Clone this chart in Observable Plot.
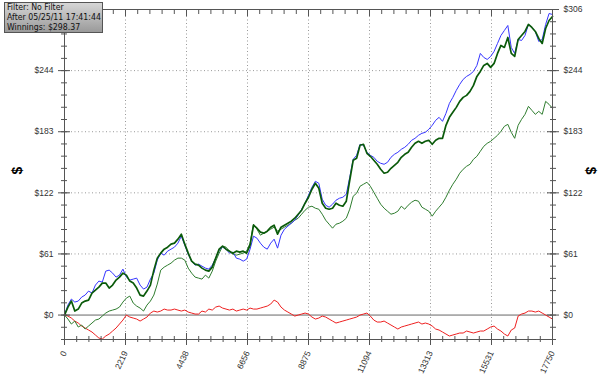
<!DOCTYPE html>
<html><head><meta charset="utf-8">
<script src="https://cdn.jsdelivr.net/npm/d3@7"></script>
<script src="https://cdn.jsdelivr.net/npm/@observablehq/plot@0.6"></script>
<style>
body{margin:0;background:#fff;}
#wrap{position:relative;width:600px;height:384px;overflow:hidden;}
#info{position:absolute;left:4px;top:2px;width:99px;height:31px;box-sizing:border-box;border:1px solid #555;background:linear-gradient(#d6d6d6,#9a9a9a);font:8.7px "DejaVu Sans Condensed","DejaVu Sans",sans-serif;line-height:9.8px;padding:0 0 0 2px;color:#111;white-space:nowrap;overflow:hidden;}
</style></head><body>
<div id="wrap"><div id="info">Filter: No Filter<br>After 05/25/11 17:41:44<br>Winnings: $298.37</div></div>
<script>
const hands = [
  0,125,250,375,500,625,750,875,
  1000,1125,1250,1375,1500,1625,1750,1875,
  2000,2125,2250,2375,2500,2625,2750,2875,
  3000,3125,3250,3375,3500,3625,3750,3875,
  4000,4125,4250,4375,4500,4625,4750,4875,
  5000,5125,5250,5375,5500,5625,5750,5875,
  6000,6125,6250,6375,6500,6625,6750,6875,
  7000,7125,7250,7375,7500,7625,7750,7875,
  8000,8125,8250,8375,8500,8625,8750,8875,
  9000,9125,9250,9375,9500,9625,9750,9875,
  10000,10125,10250,10375,10500,10625,10750,10875,
  11000,11125,11250,11375,11500,11625,11750,11875,
  12000,12125,12250,12375,12500,12625,12750,12875,
  13000,13125,13250,13375,13500,13625,13750,13875,
  14000,14125,14250,14375,14500,14625,14750,14875,
  15000,15125,15250,15375,15500,15625,15750,15875,
  16000,16125,16250,16375,16500,16625,16750,16875,
  17000,17125,17250,17375,17500,17625,17750];
const blueSeries = [
  0,10,16,13,14,18,20,24,
  22,30,34,33,44,45,42,38,
  40,46,38,35,36,37,30,26,
  28,36,42,55,62,60,64,66,
  68,72,79,70,61,54,50,51,
  49,47,46,50,57,65,68,66,
  62,63,57,56,54,56,66,79,
  77,72,68,66,72,76,67,80,
  86,89,92,95,100,106,112,120,
  128,134,132,116,110,108,111,115,
  117,118,121,138,156,160,171,170,
  163,160,158,154,152,151,153,158,
  161,163,166,168,171,175,177,180,
  182,183,186,190,195,198,194,202,
  212,218,225,231,236,239,241,244,
  250,262,258,256,259,264,272,280,
  285,290,268,262,276,275,280,291,
  288,284,274,276,291,302,301];
const darkSeries = [
  0,8,14,4,6,12,14,15,
  22,25,28,32,32,27,30,35,
  38,42,40,34,32,27,20,19,
  24,30,45,57,62,66,68,71,
  72,76,81,71,62,54,51,50,
  47,45,44,48,57,66,69,66,
  64,62,64,63,64,62,70,90,
  87,83,82,84,88,90,81,88,
  90,92,94,97,101,105,112,118,
  126,132,127,112,107,106,107,112,
  110,109,114,135,155,157,170,171,
  162,159,155,151,146,142,143,147,
  150,153,158,161,163,168,172,174,
  172,174,175,171,175,177,177,190,
  198,203,208,214,218,220,224,230,
  239,244,250,252,248,252,262,270,
  268,278,262,259,276,280,284,291,
  288,284,277,272,287,295,299];
const lightSeries = [
  0,-4,-9,-6,-12,-10,-14,-11,
  -8,-5,-4,-1,2,4,5,6,
  8,13,17,19,12,9,7,4,
  10,14,20,31,45,48,50,52,
  55,57,57,55,47,42,38,37,
  36,40,37,44,54,62,69,68,
  64,61,60,61,62,64,72,91,
  86,80,82,84,86,88,84,86,
  88,90,92,95,97,101,105,108,
  109,107,106,101,95,91,87,91,
  92,94,97,106,119,122,129,131,
  133,129,123,117,111,107,104,101,
  102,104,109,106,110,113,115,114,
  108,106,104,99,104,108,112,118,
  125,131,136,142,146,149,151,156,
  159,164,169,172,174,177,180,184,
  189,191,183,177,190,196,201,209,
  205,201,204,201,214,211,207];
const redSeries = [
  0,-1,-3,-6,-8,-11,-13,-15,
  -17,-20,-23,-24,-21,-19,-16,-13,
  -9,-5,0,-2,-3,-4,-6,-4,
  -2,2,4,3,4,6,5,5,
  6,5,4,5,3,2,1,1,
  4,3,6,5,8,9,7,6,
  5,6,4,5,6,5,7,6,
  6,7,8,9,11,15,13,8,
  5,3,1,-1,0,1,2,1,
  -2,-4,-3,-1,-2,-4,-6,-8,
  -7,-6,-5,-4,-3,-2,0,1,
  2,-1,-5,-7,-7,-6,-8,-10,
  -12,-14,-12,-11,-10,-9,-8,-7,
  -9,-8,-9,-11,-14,-15,-17,-19,
  -21,-20,-19,-18,-18,-16,-17,-18,
  -17,-16,-16,-14,-12,-11,-14,-16,
  -19,-21,-15,-13,-1,1,2,4,
  4,3,4,2,0,-2,-4];
const xTicks = [0,2218.75,4437.5,6656.25,8875,11093.75,13312.5,15531.25,17750];
const xTickLabels = ["0","2219","4438","6656","8875","11094","13313","15531","17750"];
const yTicks = [0,61.2,122.4,183.6,244.8,306];
const yTickLabels = ["$0","$61","$122","$183","$244","$306"];

const xMinor = d3.range(0, 17751, 443.75);
const yMinor = d3.range(-24.48, 306.1, 12.24);
const xLab = new Map(xTicks.map((d,i)=>[d,xTickLabels[i]]));
const yLab = new Map(yTicks.map((d,i)=>[d,yTickLabels[i]]));
const mk = s => hands.map((h,i)=>({x:h,y:s[i]}));
const blank = () => "";
const ax = "#555";
// left-side top label is hidden under the info box in the reference
const yTicksLeft = yTicks.slice(0,-1);

const chart = Plot.plot({
  width:600, height:384,
  marginLeft:64, marginRight:48, marginTop:9, marginBottom:45,
  x:{domain:[0,17750]},
  y:{domain:[-24.48,306]},
  style:{background:"#fff", fontFamily:"'Liberation Sans', Arial, sans-serif", fontSize:"8.5px", color:"#333"},
  marks:[
    Plot.ruleX(xTicks.slice(1,-1), {stroke:"#999", strokeDasharray:"1,2.5"}),
    Plot.ruleY(yTicks.slice(1,-1), {stroke:"#999", strokeDasharray:"1,2.5"}),
    Plot.ruleY([0], {stroke:"#666"}),
    Plot.line(mk(redSeries), {x:"x", y:"y", stroke:"#ee2020", strokeWidth:1}),
    Plot.line(mk(lightSeries), {x:"x", y:"y", stroke:"#2f7d2f", strokeWidth:1}),
    Plot.line(mk(blueSeries), {x:"x", y:"y", stroke:"#3535ff", strokeWidth:1}),
    Plot.line(mk(darkSeries), {x:"x", y:"y", stroke:"#0a5a0a", strokeWidth:1.7}),
    Plot.frame({stroke:ax}),
    Plot.axisY(yTicksLeft, {anchor:"left", tickSize:6, tickPadding:5, tickFormat:d=>yLab.get(d), label:null, stroke:ax}),
    Plot.axisY(yTicks, {anchor:"left", tickSize:-6, tickFormat:blank, label:null, stroke:ax}),
    Plot.axisY(yMinor, {anchor:"left", tickSize:3, tickFormat:blank, label:null, stroke:ax}),
    Plot.axisY(yMinor, {anchor:"left", tickSize:-3, tickFormat:blank, label:null, stroke:ax}),
    Plot.axisY(yTicks, {anchor:"right", tickSize:6, tickPadding:5, tickFormat:d=>yLab.get(d), label:null, stroke:ax}),
    Plot.axisY(yTicks, {anchor:"right", tickSize:-6, tickFormat:blank, label:null, stroke:ax}),
    Plot.axisY(yMinor, {anchor:"right", tickSize:3, tickFormat:blank, label:null, stroke:ax}),
    Plot.axisY(yMinor, {anchor:"right", tickSize:-3, tickFormat:blank, label:null, stroke:ax}),
    Plot.axisX(xTicks, {anchor:"bottom", tickSize:6, tickPadding:6, tickRotate:-65, tickFormat:d=>xLab.get(d), label:null, stroke:ax}),
    Plot.axisX(xTicks, {anchor:"bottom", tickSize:-6, tickFormat:blank, label:null, stroke:ax}),
    Plot.axisX(xMinor, {anchor:"bottom", tickSize:3, tickFormat:blank, label:null, stroke:ax}),
    Plot.axisX(xMinor, {anchor:"bottom", tickSize:-3, tickFormat:blank, label:null, stroke:ax}),
    Plot.axisX(xTicks, {anchor:"top", tickSize:-6, tickFormat:blank, label:null, stroke:ax}),
    Plot.axisX(xMinor, {anchor:"top", tickSize:-4, tickFormat:blank, label:null, stroke:ax}),
    Plot.text(["$"], {frameAnchor:"left", dx:-47, rotate:-90, fontWeight:"bold", fontSize:14, fill:"#000"}),
    Plot.text(["$"], {frameAnchor:"right", dx:38, rotate:90, fontWeight:"bold", fontSize:14, fill:"#000"})
  ]
});
document.getElementById("wrap").prepend(chart);
</script>
</body></html>
